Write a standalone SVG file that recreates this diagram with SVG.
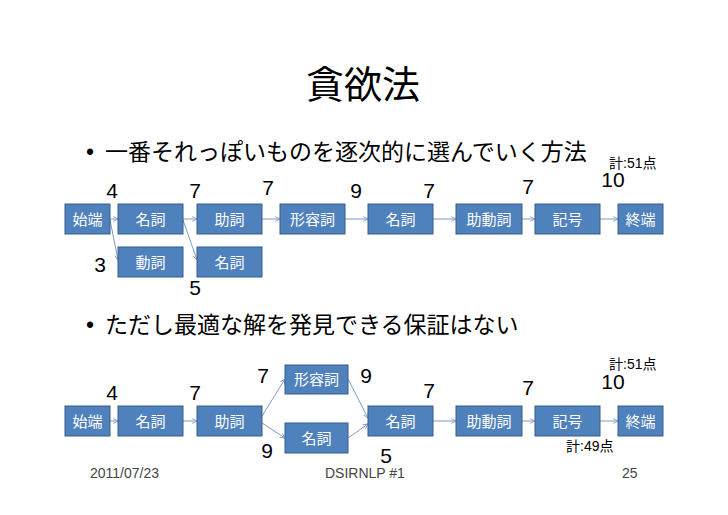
<svg xmlns="http://www.w3.org/2000/svg" width="728" height="515" viewBox="0 0 728 515">
<style>
.box rect{fill:#4F81BD;stroke:#385D8A;stroke-width:1}
.box text{fill:#fff;font-family:"Liberation Sans","Noto Sans CJK JP",sans-serif;font-size:15px;text-anchor:middle}
.num{font-family:"Liberation Sans","Noto Sans CJK JP",sans-serif;font-size:21px;fill:#000;text-anchor:middle}
.sum{font-family:"Liberation Sans","Noto Sans CJK JP",sans-serif;font-size:14px;fill:#000}
.title{font-family:"Liberation Sans","Noto Sans CJK JP",sans-serif;font-size:38px;fill:#000;text-anchor:middle}
.bul{font-family:"Liberation Sans","Noto Sans CJK JP",sans-serif;font-size:23px;fill:#000}
.foot{font-family:"Liberation Sans","Noto Sans CJK JP",sans-serif;font-size:14px;fill:#444}
.con line{stroke:#7F9CC6;stroke-width:1;marker-end:url(#ar)}
</style>
<defs>
<marker id="ar" viewBox="0 0 10 10" refX="9" refY="5" markerWidth="6" markerHeight="6" orient="auto" markerUnits="userSpaceOnUse">
<path d="M1,1 L9,5 L1,9" fill="none" stroke="#7F9CC6" stroke-width="1.5"/>
</marker>
</defs>
<rect width="728" height="515" fill="#fff"/>
<text class="title" x="363" y="98">貪欲法</text>
<text class="bul" x="86" y="160">•</text>
<text class="bul" x="105" y="160">一番それっぽいものを逐次的に選んでいく方法</text>
<text class="bul" x="86" y="333">•</text>
<text class="bul" x="105" y="333">ただし最適な解を発見できる保証はない</text>

<g class="con">
<line x1="110" y1="219" x2="118" y2="219"/>
<line x1="183" y1="219" x2="197" y2="219"/>
<line x1="262" y1="219" x2="280" y2="219"/>
<line x1="345" y1="219" x2="368" y2="219"/>
<line x1="433" y1="219" x2="456" y2="219"/>
<line x1="522" y1="219" x2="535" y2="219"/>
<line x1="600" y1="219" x2="618" y2="219"/>
<line x1="110" y1="220" x2="118" y2="260"/>
<line x1="183" y1="220" x2="197" y2="260"/>
<line x1="110" y1="421" x2="118" y2="421"/>
<line x1="183" y1="421" x2="197" y2="421"/>
<line x1="262" y1="416" x2="285" y2="379"/>
<line x1="262" y1="423" x2="285" y2="438"/>
<line x1="348" y1="379" x2="368" y2="418"/>
<line x1="348" y1="438" x2="368" y2="424"/>
<line x1="433" y1="421" x2="456" y2="421"/>
<line x1="522" y1="421" x2="535" y2="421"/>
<line x1="600" y1="421" x2="618" y2="421"/>
</g>

<g id="t-start" class="box"><rect x="65" y="204" width="45" height="30"/><text x="87.5" y="224.5">始端</text></g>
<g id="t-noun1" class="box"><rect x="118" y="204" width="65" height="30"/><text x="150.5" y="224.5">名詞</text></g>
<g id="t-part" class="box"><rect x="197" y="204" width="65" height="30"/><text x="229.5" y="224.5">助詞</text></g>
<g id="t-adj" class="box"><rect x="280" y="204" width="65" height="30"/><text x="312.5" y="224.5">形容詞</text></g>
<g id="t-noun2" class="box"><rect x="368" y="204" width="65" height="30"/><text x="400.5" y="224.5">名詞</text></g>
<g id="t-aux" class="box"><rect x="456" y="204" width="66" height="30"/><text x="489" y="224.5">助動詞</text></g>
<g id="t-sym" class="box"><rect x="535" y="204" width="65" height="30"/><text x="567.5" y="224.5">記号</text></g>
<g id="t-end" class="box"><rect x="618" y="204" width="45" height="30"/><text x="640.5" y="224.5">終端</text></g>
<g id="t-verb" class="box"><rect x="118" y="247" width="65" height="30"/><text x="150.5" y="267.5">動詞</text></g>
<g id="t-noun3" class="box"><rect x="197" y="247" width="65" height="30"/><text x="229.5" y="267.5">名詞</text></g>

<text class="num" x="112" y="198">4</text>
<text class="num" x="195" y="198">7</text>
<text class="num" x="268" y="195">7</text>
<text class="num" x="356" y="198">9</text>
<text class="num" x="429" y="198">7</text>
<text class="num" x="528" y="194">7</text>
<text class="num" x="613" y="187">10</text>
<text class="sum" x="609" y="168">計:51点</text>
<text class="num" x="100" y="272">3</text>
<text class="num" x="195" y="295">5</text>

<g id="b-start" class="box"><rect x="65" y="406" width="45" height="30"/><text x="87.5" y="426.5">始端</text></g>
<g id="b-noun1" class="box"><rect x="118" y="406" width="65" height="30"/><text x="150.5" y="426.5">名詞</text></g>
<g id="b-part" class="box"><rect x="197" y="406" width="65" height="30"/><text x="229.5" y="426.5">助詞</text></g>
<g id="b-adj" class="box"><rect x="285" y="365" width="63" height="29"/><text x="316.5" y="385">形容詞</text></g>
<g id="b-noun3" class="box"><rect x="285" y="423" width="63" height="30"/><text x="316.5" y="443.5">名詞</text></g>
<g id="b-noun2" class="box"><rect x="368" y="406" width="65" height="30"/><text x="400.5" y="426.5">名詞</text></g>
<g id="b-aux" class="box"><rect x="456" y="406" width="66" height="30"/><text x="489" y="426.5">助動詞</text></g>
<g id="b-sym" class="box"><rect x="535" y="406" width="65" height="30"/><text x="567.5" y="426.5">記号</text></g>
<g id="b-end" class="box"><rect x="618" y="406" width="45" height="30"/><text x="640.5" y="426.5">終端</text></g>

<text class="num" x="112" y="400">4</text>
<text class="num" x="195" y="400">7</text>
<text class="num" x="263" y="383">7</text>
<text class="num" x="366" y="383">9</text>
<text class="num" x="429" y="398">7</text>
<text class="num" x="528" y="395">7</text>
<text class="num" x="613" y="389">10</text>
<text class="sum" x="609" y="369">計:51点</text>
<text class="num" x="267" y="458">9</text>
<text class="num" x="386" y="463">5</text>
<text class="sum" x="566" y="451">計:49点</text>

<text class="foot" x="90" y="478">2011/07/23</text>
<text class="foot" x="325" y="478">DSIRNLP #1</text>
<text class="foot" x="622" y="478">25</text>
</svg>
